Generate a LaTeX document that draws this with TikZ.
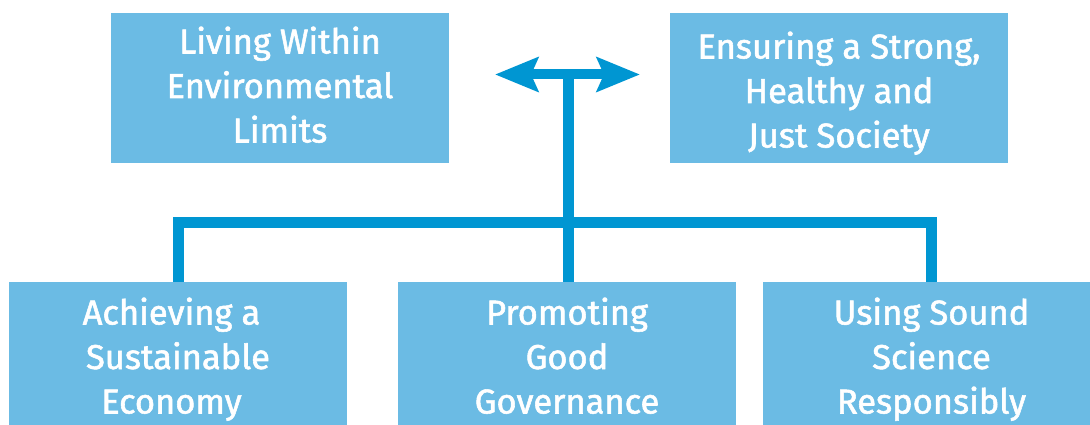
\documentclass[tikz,border=0pt]{standalone}
\usepackage{fontspec}
\setmainfont{Fira Sans}
\newfontfamily\medfont[FakeBold=1.6]{Fira Sans}
\usetikzlibrary{arrows.meta}
\definecolor{boxblue}{HTML}{6BBBE4}
\definecolor{lineblue}{HTML}{0096D2}
\newcommand\hstrut[1]{\rule{0pt}{#1pt}}
\newcommand\dstrut{\rule[-10pt]{0pt}{10pt}}
\newcommand\lsh{\hspace*{13pt}}
\tikzset{
  goalbox/.style={rectangle, fill=boxblue, draw=none, minimum width=338pt, minimum height=150pt,
    inner sep=0pt, text=white, align=center, font=\fontsize{34.5}{44.5}\selectfont\medfont},
  conn/.style={draw=lineblue, line width=11pt, line join=miter, line cap=butt},
  dblarrow/.style={draw=lineblue, line width=10pt, {Stealth[length=43pt,width=34pt,inset=7pt]}-{Stealth[length=43pt,width=34pt,inset=7pt]}}
}
\begin{document}
\begin{tikzpicture}[x=1pt,y=-1pt]
\useasboundingbox (0,0) rectangle (1090,425);
\node[goalbox] (t1) at (280,88) {\hstrut{30}Living Within\\Environmental\\Limits\dstrut};
\node[goalbox] (t2) at (839,88) {\hstrut{40}Ensuring a Strong,\\Healthy and\\Just Society\dstrut};
\node[goalbox] (b1) at (178,357) {\hstrut{34}Achieving a\lsh\\Sustainable\lsh\\Economy\lsh\dstrut};
\node[goalbox] (b2) at (567,357) {\hstrut{34}Promoting\\Good\\Governance\dstrut};
\node[goalbox] (b3) at (931.5,357) {\hstrut{34}Using Sound\\Science\\Responsibly\dstrut};
\coordinate (al) at (495,74.5);
\coordinate (ar) at (640,74.5);
\coordinate (hub) at (568.5,74.5);
\coordinate (bar) at (568.5,222.5);
\draw[dblarrow] (al) -- (ar);
\draw[conn] (b2.north -| hub) -- ([yshift=-5pt]hub);
\draw[conn] (b1.north) |- (bar) -| (b3.north);
\end{tikzpicture}
\end{document}
